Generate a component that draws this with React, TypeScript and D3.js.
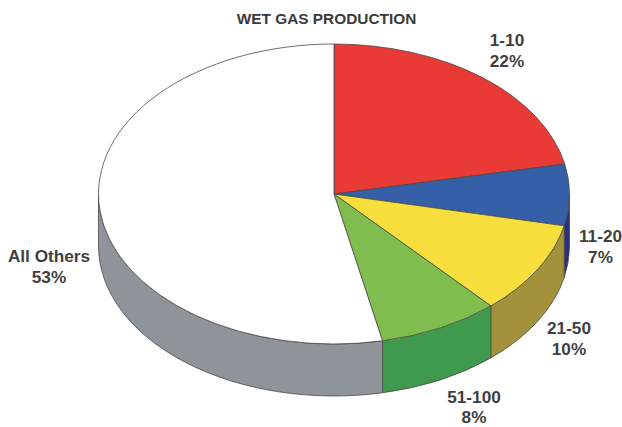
import React from "react";
import * as d3 from "d3";

const title = "WET GAS PRODUCTION";
const categories = ["1-10", "11-20", "21-50", "51-100", "All Others"];
const shareLabels = ["22%", "7%", "10%", "8%", "53%"];
const shares = [21.8, 6.6, 10.0, 8.3, 53.3];
const topColors = ["#E93A36", "#3560A8", "#F8DF3E", "#7FBE4E", "#FFFFFF"];
const sideColors = ["#B02A2A", "#2B2F86", "#A2923C", "#3F9A4E", "#8E9499"];
const labelCenters: [number, number][] = [
  [507, 46],
  [600.5, 242],
  [569, 334],
  [474, 403],
  [49, 262],
];
const lineGaps = [21, 21, 21, 20, 21];

const W = 622;
const H = 427;
const cx = 334;
const cy = 194;
const rx = 235.5;
const ry = 150;
const depth = 52;

const pt = (t: number, dy = 0): [number, number] => [
  cx + rx * Math.sin(t),
  cy - ry * Math.cos(t) + dy,
];

export default function App() {
  const arcs = d3.pie<number>().sort(null)(shares);
  const edge = "#4a4a44";
  const sides = arcs.map((a, i) => {
    const s = Math.max(a.startAngle, Math.PI / 2);
    const e = Math.min(a.endAngle, (3 * Math.PI) / 2);
    if (e <= s) return null;
    const [x0, y0] = pt(s);
    const [x1, y1] = pt(e);
    const [x2, y2] = pt(e, depth);
    const [x3, y3] = pt(s, depth);
    const large = e - s > Math.PI ? 1 : 0;
    const d = `M${x0},${y0}A${rx},${ry} 0 ${large} 1 ${x1},${y1}L${x2},${y2}A${rx},${ry} 0 ${large} 0 ${x3},${y3}Z`;
    return <path key={i} d={d} fill={sideColors[i]} stroke={edge} strokeWidth={0.8} />;
  });
  const tops = arcs.map((a, i) => {
    const [x0, y0] = pt(a.startAngle);
    const [x1, y1] = pt(a.endAngle);
    const large = a.endAngle - a.startAngle > Math.PI ? 1 : 0;
    const d = `M${cx},${cy}L${x0},${y0}A${rx},${ry} 0 ${large} 1 ${x1},${y1}Z`;
    return <path key={i} d={d} fill={topColors[i]} stroke={edge} strokeWidth={0.8} strokeLinejoin="round" />;
  });
  return (
    <svg
      width={W}
      height={H}
      viewBox={`0 0 ${W} ${H}`}
      style={{ position: "absolute", left: 0, top: 0, background: "#fff" }}
      fontFamily="'Liberation Sans', Arial, sans-serif"
      fontWeight="bold"
    >
      <text x={326.5} y={24} textAnchor="middle" fontSize={15.4} fill="#3a3a3a">
        {title}
      </text>
      <g>{sides}</g>
      <g>{tops}</g>
      <g fontSize={17.2} fill="#3f3f3f" textAnchor="middle">
        {categories.map((c, i) => (
          <text key={c} x={labelCenters[i][0]} y={labelCenters[i][1]}>
            <tspan x={labelCenters[i][0]}>{c}</tspan>
            <tspan x={labelCenters[i][0]} dy={lineGaps[i]}>
              {shareLabels[i]}
            </tspan>
          </text>
        ))}
      </g>
    </svg>
  );
}
